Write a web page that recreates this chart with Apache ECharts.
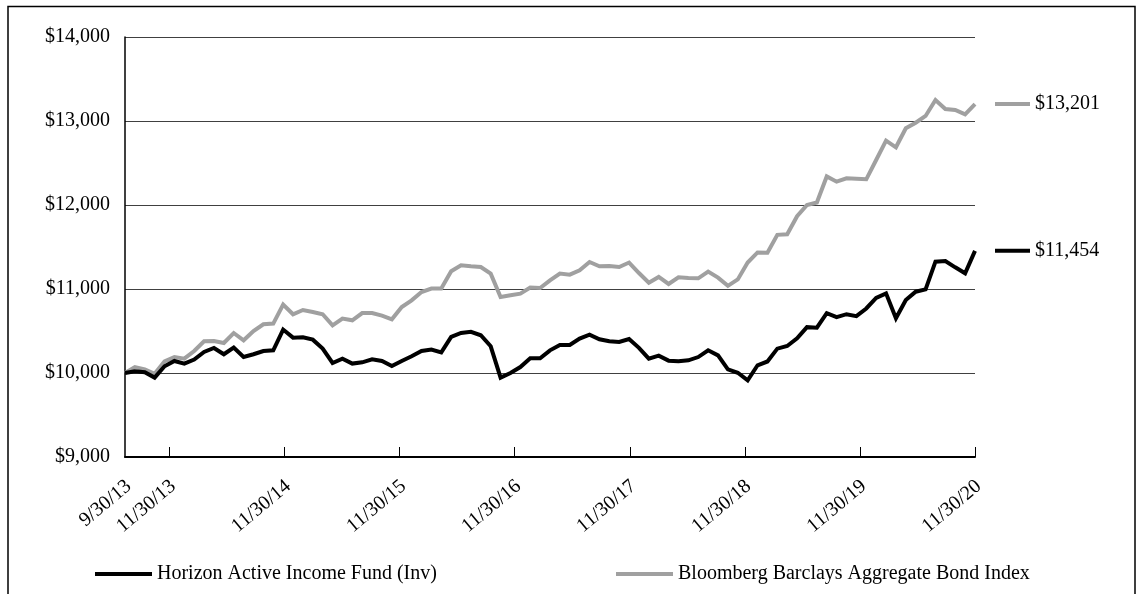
<!DOCTYPE html>
<html>
<head>
<meta charset="utf-8">
<script src="https://cdn.jsdelivr.net/npm/echarts@6/dist/echarts.min.js"></script>
<style>html,body{margin:0;padding:0;background:#fff}#c{width:1143px;height:594px}</style>
</head>
<body>
<div id="c"></div>
<script>
const seriesNames = ['Horizon Active Income Fund (Inv)', 'Bloomberg Barclays Aggregate Bond Index'];
const fundValues = [10000,10020,10010,9945,10080,10143,10112,10160,10250,10298,10223,10302,10190,10223,10262,10270,10517,10421,10425,10397,10290,10119,10171,10112,10127,10163,10143,10083,10143,10199,10262,10279,10246,10429,10476,10490,10449,10318,9945,10000,10071,10175,10175,10270,10333,10333,10410,10457,10401,10377,10369,10405,10300,10171,10206,10147,10141,10151,10190,10270,10210,10044,10003,9913,10092,10137,10290,10321,10413,10546,10540,10713,10665,10700,10677,10768,10893,10948,10651,10869,10968,10996,11325,11333,11258,11187,11454];
const indexValues = [10000,10071,10044,9990,10139,10190,10171,10262,10377,10381,10357,10476,10389,10500,10580,10588,10814,10699,10750,10726,10699,10568,10648,10627,10714,10714,10683,10639,10786,10865,10964,11005,11005,11211,11282,11270,11262,11183,10905,10925,10945,11017,11012,11103,11183,11171,11222,11321,11270,11274,11262,11315,11190,11075,11143,11060,11140,11130,11127,11208,11135,11038,11114,11315,11435,11432,11645,11652,11867,12000,12030,12340,12278,12317,12313,12306,12536,12766,12687,12913,12980,13060,13250,13143,13131,13079,13201];
const tickLabels = ['9/30/13','11/30/13','11/30/14','11/30/15','11/30/16','11/30/17','11/30/18','11/30/19','11/30/20'];
const tickIndex = [0,4.5,16.14,27.79,39.43,51.07,62.71,74.36,86];
const yTicks = [9000,10000,11000,12000,13000,14000];

const FONT = 'Liberation Serif';
const colors = ['#000000', '#a0a0a0'];
const fmt = v => '$' + Math.round(v).toLocaleString('en-US');
const toPairs = arr => arr.map((v, i) => [i, v]);

const chart = echarts.init(document.getElementById('c'), null, {renderer: 'canvas'});

function mkSeries(name, values, color, z) {
  return {
    name, type: 'line', data: toPairs(values), symbol: 'none', z,
    lineStyle: {color, width: 4, join: 'miter'}, itemStyle: {color},
    endLabel: {
      show: true, distance: 20,
      formatter: p => '{seg|}{val|' + fmt(p.value[1]) + '}',
      rich: {
        seg: {width: 35, height: 4, backgroundColor: color},
        val: {fontFamily: FONT, fontSize: 20, color: '#000', padding: [0, 0, 0, 5]}
      }
    }
  };
}

chart.setOption({
  animation: false,
  backgroundColor: '#fff',
  textStyle: {fontFamily: FONT},
  grid: {left: 125, top: 37, right: 168, bottom: 137, containLabel: false},
  xAxis: {
    type: 'value', min: 0, max: fundValues.length - 1,
    axisLine: {show: true, lineStyle: {color: '#000', width: 2}},
    axisTick: {show: true, inside: true, length: 10, lineStyle: {color: '#000', width: 1}, customValues: tickIndex.slice(1)},
    splitLine: {show: false},
    axisLabel: {
      customValues: tickIndex, rotate: 40, margin: 30, padding: [0, -5, 0, 0],
      fontFamily: FONT, fontSize: 20, color: '#000',
      formatter: v => { const k = tickIndex.findIndex(t => Math.abs(t - v) < 1e-6); return k >= 0 ? tickLabels[k] : ''; }
    }
  },
  yAxis: {
    type: 'value', min: yTicks[0], max: yTicks[yTicks.length - 1], interval: 1000,
    axisLine: {show: true, lineStyle: {color: '#000', width: 1.5}},
    axisTick: {show: false},
    splitLine: {show: true, lineStyle: {color: '#404040', width: 1}},
    axisLabel: {margin: 15, fontFamily: FONT, fontSize: 20, color: '#000', formatter: v => fmt(v)}
  },
  legend: [
    {data: [seriesNames[0]], left: 95, top: 564, padding: 0, icon: 'rect', itemWidth: 57, itemHeight: 4,
     textStyle: {fontFamily: FONT, fontSize: 20, color: '#000'}},
    {data: [seriesNames[1]], left: 616, top: 564, padding: 0, icon: 'rect', itemWidth: 57, itemHeight: 4,
     textStyle: {fontFamily: FONT, fontSize: 20, color: '#000'}}
  ],
  graphic: [{
    type: 'polyline', silent: true,
    shape: {points: [[8, 600], [8, 6.5], [1135, 6.5], [1135, 600]]},
    style: {stroke: '#000', lineWidth: 1.5, fill: null}
  }],
  series: [
    mkSeries(seriesNames[1], indexValues, colors[1], 2),
    mkSeries(seriesNames[0], fundValues, colors[0], 3)
  ]
});
</script>
</body>
</html>
